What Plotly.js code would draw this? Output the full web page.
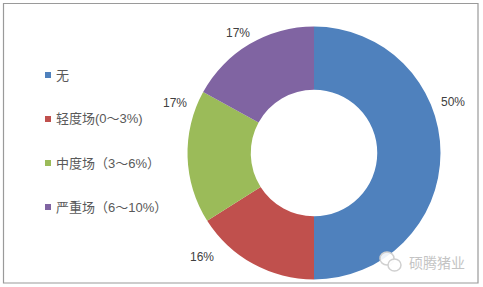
<!DOCTYPE html>
<html>
<head>
<meta charset="utf-8">
<script src="https://cdn.plot.ly/plotly-3.0.1.min.js"></script>
<style>html,body{margin:0;padding:0;background:#fff;}#chart{width:483px;height:287px;}</style>
</head>
<body>
<div id="chart"></div>
<script>
const categories = ["无", "轻度场(0～3%)", "中度场（3～6%）", "严重场（6～10%）"];
const values = [50, 16, 17, 17];
const colors = ["#4F81BD", "#C0504D", "#9BBB59", "#8064A2"];
const watermark = "硕腾猪业";

const W = 483, H = 287;
const px = x => x / W;
const py = y => 1 - y / H;
const FONT = 'Arial, "Liberation Sans", "Noto Sans CJK SC", sans-serif';

const trace = {
  type: "pie",
  labels: categories,
  values: values,
  sort: false,
  direction: "clockwise",
  rotation: 0,
  hole: 0.5,
  textinfo: "none",
  hoverinfo: "label+percent",
  marker: { colors: colors, line: { width: 0 } },
  domain: { x: [px(187.5), px(440.5)], y: [py(279.5), py(26.5)] },
  showlegend: false
};

// percentage label positions (px)
const labelPos = [[453, 102], [202, 257], [175, 103], [238, 33]];
const annotations = values.map((v, i) => ({
  xref: "paper", yref: "paper",
  x: px(labelPos[i][0]), y: py(labelPos[i][1]),
  text: v + "%", showarrow: false,
  xanchor: "center", yanchor: "middle",
  font: { family: FONT, size: 12, color: "#404040" }
}));

// legend
const legendY = [75, 119, 163, 207];
const shapes = [];
categories.forEach((c, i) => {
  annotations.push({
    xref: "paper", yref: "paper",
    x: px(54), y: py(legendY[i]),
    text: c, showarrow: false,
    xanchor: "left", yanchor: "middle",
    font: { family: FONT, size: 13, color: "#595959" }
  });
  shapes.push({
    type: "rect", xref: "paper", yref: "paper",
    x0: px(45), x1: px(51), y0: py(legendY[i] + 3), y1: py(legendY[i] - 3),
    fillcolor: colors[i], line: { width: 0 }
  });
});

// frame
shapes.push({
  type: "rect", xref: "paper", yref: "paper",
  x0: px(3.5), x1: px(478), y0: py(283), y1: py(3.5),
  line: { color: "#9a9a9a", width: 1.2 }, fillcolor: "rgba(0,0,0,0)", layer: "above"
});

// watermark icon (two speech bubbles)
shapes.push({
  type: "circle", xref: "paper", yref: "paper",
  x0: px(380), x1: px(394), y0: py(265), y1: py(252),
  line: { color: "#d0d0d0", width: 1.5 }, fillcolor: "rgba(255,255,255,0.9)", layer: "above"
});
shapes.push({
  type: "circle", xref: "paper", yref: "paper",
  x0: px(388), x1: px(401), y0: py(271), y1: py(259),
  line: { color: "#d0d0d0", width: 1.5 }, fillcolor: "rgba(255,255,255,0.9)", layer: "above"
});
annotations.push({
  xref: "paper", yref: "paper",
  x: px(407), y: py(262),
  text: watermark, showarrow: false,
  xanchor: "left", yanchor: "middle",
  font: { family: '"Noto Sans CJK SC", sans-serif', size: 14, color: "#c4c4c4" }
});

const layout = {
  width: W, height: H,
  margin: { l: 0, r: 0, t: 0, b: 0 },
  paper_bgcolor: "#ffffff",
  showlegend: false,
  annotations: annotations,
  shapes: shapes
};

Plotly.newPlot("chart", [trace], layout, { displayModeBar: false, staticPlot: true });
</script>
</body>
</html>
